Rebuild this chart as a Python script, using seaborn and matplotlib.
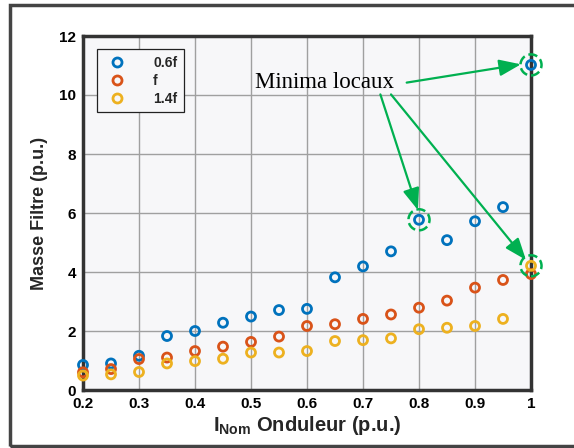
import numpy as np
import pandas as pd
import matplotlib
matplotlib.use("Agg")
import matplotlib.pyplot as plt
from matplotlib.patches import Rectangle
from matplotlib.lines import Line2D
from matplotlib.ticker import MultipleLocator
import seaborn as sns

# ---- data ----
x_vals = [0.2, 0.25, 0.3, 0.35, 0.4, 0.45, 0.5, 0.55, 0.6, 0.65, 0.7, 0.75, 0.8, 0.85, 0.9, 0.95, 1.0]
mass_06f = [0.85, 0.90, 1.16, 1.83, 2.00, 2.28, 2.49, 2.71, 2.75, 3.82, 4.19, 4.70, 5.77, 5.08, 5.72, 6.20, 11.02]
mass_f = [0.60, 0.71, 1.05, 1.10, 1.32, 1.47, 1.63, 1.81, 2.17, 2.23, 2.41, 2.56, 2.79, 3.03, 3.47, 3.73, 3.93]
mass_14f = [0.49, 0.53, 0.61, 0.90, 0.98, 1.06, 1.27, 1.27, 1.32, 1.66, 1.69, 1.75, 2.06, 2.11, 2.17, 2.41, 4.21]
series_labels = ["0.6f", "f", "1.4f"]
minima_x = [0.8, 1.0, 1.0]
minima_y = [5.77, 11.02, 4.21]
annot_text = "Minima locaux"
x_ticks = [0.2, 0.3, 0.4, 0.5, 0.6, 0.7, 0.8, 0.9, 1.0]
x_ticklabels = ["0.2", "0.3", "0.4", "0.5", "0.6", "0.7", "0.8", "0.9", "1"]
y_ticks = [0, 2, 4, 6, 8, 10, 12]

df = pd.DataFrame({
    "x": x_vals * 3,
    "y": mass_06f + mass_f + mass_14f,
    "serie": [series_labels[0]] * len(x_vals) + [series_labels[1]] * len(x_vals) + [series_labels[2]] * len(x_vals),
})

sns.set_theme(style="white")
plt.rcParams["font.family"] = ["Liberation Sans", "DejaVu Sans"]
plt.rcParams["mathtext.fontset"] = "custom"
plt.rcParams["mathtext.rm"] = "Liberation Sans"
plt.rcParams["mathtext.bf"] = "Liberation Sans:bold"

colors = ["#0072BD", "#D95319", "#EDB120"]

fig = plt.figure(figsize=(5.74, 4.48), dpi=100)
fig.patch.set_facecolor("white")
ax = fig.add_axes([83 / 574, 1 - 390 / 448, (531 - 83) / 574, (390 - 36) / 448])
ax.set_facecolor("#f7f7f9")

# outer frame of the figure
fig.patches.append(Rectangle((10 / 574, 2 / 448), 1.2, (446 - 5) / 448, transform=fig.transFigure,
                             fill=False, edgecolor="#444444", linewidth=2.5, zorder=0))

sns.scatterplot(data=df, x="x", y="y", hue="serie", palette=colors, ax=ax,
                marker="o", s=42, linewidth=2.0, legend=False, zorder=3, clip_on=False)
coll = ax.collections[0]
ec = coll.get_facecolors()
coll.set_edgecolors(ec)
coll.set_facecolors("none")
coll.set_clip_on(False)

# dashed circles for minima
ax.scatter(minima_x, minima_y, s=230, facecolors="none", edgecolors="#00B050",
           linewidths=1.8, linestyles="--", zorder=4, clip_on=False)

# annotations
green = "#00B050"
ax.text(0.507, 10.42, annot_text, fontsize=16.5, family=["Liberation Serif", "DejaVu Serif"],
        va="center", ha="left", color="black", zorder=5)
arrows = [((0.778, 10.42), (0.982, 11.04)),
          ((0.731, 10.02), (0.798, 6.10)),
          ((0.750, 10.02), (0.991, 4.41))]
for start, end in arrows:
    ax.annotate("", xy=end, xytext=start,
                arrowprops=dict(arrowstyle="-|>,head_length=1.1,head_width=0.42", color=green,
                                lw=1.6, shrinkA=0, shrinkB=0), zorder=5, annotation_clip=False)

ax.set_xlim(0.2, 1.0)
ax.set_ylim(0, 12)
ax.set_xticks(x_ticks)
ax.set_xticklabels(x_ticklabels)
ax.set_yticks(y_ticks)
ax.xaxis.set_minor_locator(MultipleLocator(0.025))
ax.yaxis.set_minor_locator(MultipleLocator(0.4))
ax.grid(True, which="major", color="#a0a0a0", linewidth=1.0)
ax.set_axisbelow(True)
ax.tick_params(axis="both", which="major", direction="in", length=4, width=1, colors="#333333",
               labelsize=11, labelcolor="black", pad=5)
ax.tick_params(axis="both", which="minor", direction="in", length=3, width=0.8, colors="#333333")
ax.tick_params(top=False, right=False, which="both")
for lab in ax.get_xticklabels() + ax.get_yticklabels():
    lab.set_fontweight("bold")
for sp in ax.spines.values():
    sp.set_visible(True)
    sp.set_color("#333333")
    sp.set_linewidth(2.5)

ax.set_xlabel(r"$\mathbf{I}_{\mathbf{Nom}}$ Onduleur (p.u.)", fontsize=14.5, fontweight="bold", labelpad=2)
ax.set_ylabel("Masse Filtre (p.u.)", fontsize=13, fontweight="bold", labelpad=8)

# legend
handles = [Line2D([], [], marker="o", linestyle="none", markersize=6.5, markerfacecolor="none",
                  markeredgecolor=c, markeredgewidth=2.0) for c in colors]
leg = ax.legend(handles, series_labels, loc="upper left", bbox_to_anchor=(0.031, 0.962),
                frameon=True, fancybox=False, edgecolor="#222222", framealpha=1, facecolor="#f7f7f9",
                prop={"weight": "bold", "size": 10}, handletextpad=1.6, borderpad=0.45,
                labelspacing=0.3, handlelength=2.0, borderaxespad=0)
leg.get_frame().set_linewidth(0.9)

fig.savefig("out.png", dpi=100)
